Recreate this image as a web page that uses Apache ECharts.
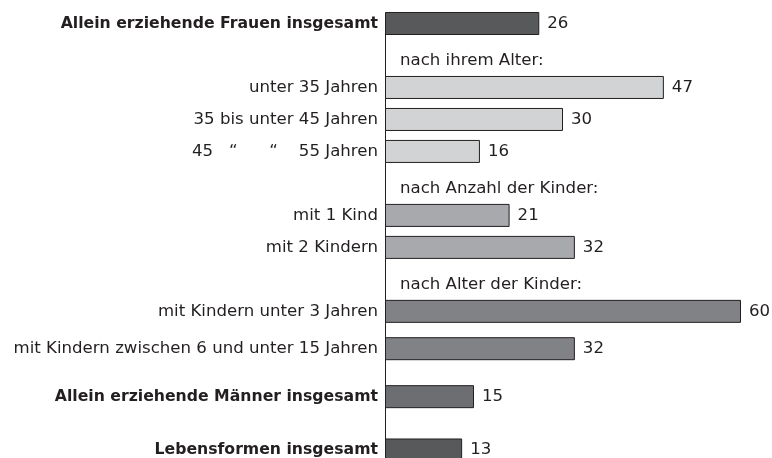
<!DOCTYPE html>
<html>
<head>
<meta charset="utf-8">
<script src="https://cdn.jsdelivr.net/npm/echarts@6/dist/echarts.min.js"></script>
<style>html,body{margin:0;padding:0;background:#fff}#c{width:772px;height:458px}</style>
</head>
<body>
<div id="c"></div>
<script>
// ---- data ----
const categories = [
  'Allein erziehende Frauen insgesamt',
  'nach ihrem Alter:',
  'unter 35 Jahren',
  '35 bis unter 45 Jahren',
  '45   \u201C      \u201C    55 Jahren',
  'nach Anzahl der Kinder:',
  'mit 1 Kind',
  'mit 2 Kindern',
  'nach Alter der Kinder:',
  'mit Kindern unter 3 Jahren',
  'mit Kindern zwischen 6 und unter 15 Jahren',
  'Allein erziehende M\u00e4nner insgesamt',
  'Lebensformen insgesamt'
];
const values = [26, null, 47, 30, 16, null, 21, 32, null, 60, 32, 15, 13];
const boldRows = [0, 11, 12];

// ---- layout / style ----
const slotOf = [1, 8, 13, 19, 25, 32, 37, 43, 50, 55, 62, 71, 81];
const slotCount = 82;
const barColors = ['#58595b', null, '#d1d3d4', '#d1d3d4', '#d1d3d4', null,
  '#a7a9ac', '#a7a9ac', null, '#808285', '#808285', '#6d6e71', '#58595b'];
const ink = '#231f20';
const font = 'DejaVu Sans';

const axisCats = new Array(slotCount).fill('');
const seriesData = new Array(slotCount).fill('-');
categories.forEach((name, i) => {
  const s = slotOf[i];
  if (values[i] === null) {
    axisCats[s] = '';
    seriesData[s] = {
      value: 0,
      itemStyle: { color: 'transparent', borderWidth: 0 },
      label: { show: true, position: 'right', distance: 15, formatter: name }
    };
  } else {
    axisCats[s] = (boldRows.includes(i) ? '{b|' : '{n|') + name + '}';
    seriesData[s] = { value: values[i], itemStyle: { color: barColors[i] } };
  }
});

const chart = echarts.init(document.getElementById('c'), null, { renderer: 'canvas' });
chart.setOption({
  animation: false,
  backgroundColor: '#fff',
  grid: { left: 385, right: 31, top: 15.5, height: slotCount * 5.331, containLabel: false },
  xAxis: {
    type: 'value', min: 0, max: 60, show: false
  },
  yAxis: {
    type: 'category', inverse: true, data: axisCats,
    axisLine: { show: true, lineStyle: { color: ink, width: 1 } },
    axisTick: { show: false },
    splitLine: { show: false },
    axisLabel: {
      interval: 0, margin: 7, fontFamily: font, fontSize: 16.6, color: ink,
      rich: {
        b: { fontFamily: font, fontSize: 15.7, fontWeight: 'bold', color: ink },
        n: { fontFamily: font, fontSize: 16.6, color: ink }
      }
    }
  },
  series: [{
    type: 'bar',
    data: seriesData,
    barWidth: 23,
    clip: false,
    itemStyle: { borderColor: ink, borderWidth: 1 },
    label: {
      show: true, position: 'right', distance: 8,
      fontFamily: font, fontSize: 16.6, color: ink
    }
  }]
});
</script>
</body>
</html>
